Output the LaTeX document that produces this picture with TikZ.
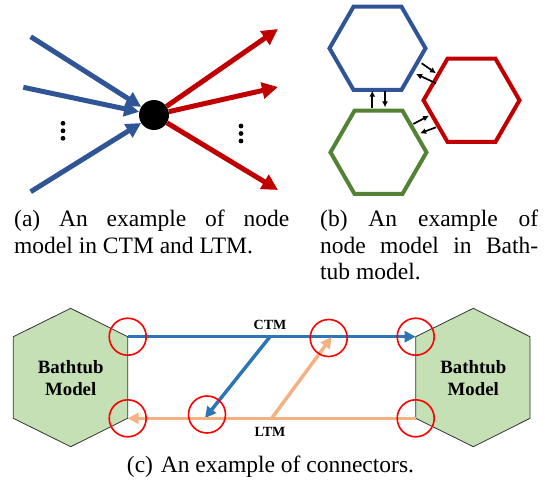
\documentclass[tikz,border=0pt]{standalone}
\usepackage{fontspec}
\setmainfont{Liberation Serif}
\usetikzlibrary{arrows.meta}
\usetikzlibrary{shapes.geometric}
\definecolor{darkblue}{HTML}{2F5597}
\definecolor{darkred}{HTML}{C00000}
\definecolor{darkgreen}{HTML}{548235}
\definecolor{ctmblue}{HTML}{2E75B6}
\definecolor{ltmorange}{HTML}{F4B183}
\definecolor{tubgreen}{HTML}{C5E0B4}

\begin{document}
\begin{tikzpicture}[x=1pt,y=-1pt,
    hub/.style={circle,fill=black,minimum size=30,inner sep=0},
    inflow/.style={-{Triangle[length=15pt,width=15pt]},line width=5pt,darkblue},
    outflow/.style={-{Triangle[length=16pt,width=16pt]},line width=5pt,darkred},
    tub/.style={regular polygon,regular polygon sides=6,minimum size=96,
        inner sep=0,line width=4pt},
    swap/.style={-{Latex[length=6pt,width=6pt]},line width=1.7pt},
    tubhex/.style={fill=tubgreen,draw=black!80,line width=0.8pt},
    tubname/.style={font=\fontsize{18.8}{22}\selectfont\bfseries,align=center,inner sep=0},
    ctmline/.style={-{Triangle[length=11pt,width=11pt]},line width=3.5pt,ctmblue},
    ltmline/.style={-{Triangle[length=11pt,width=11pt]},line width=3.5pt,ltmorange},
    ring/.style={circle,draw=red,line width=1.6pt,minimum size=37,inner sep=0},
    linkname/.style={font=\fontsize{14}{16}\selectfont\bfseries,inner sep=0},
    caption/.style={font=\fontsize{23.5}{26.5}\selectfont,align=left,inner sep=0}]

\useasboundingbox (0,0) rectangle (545,487);

% (a) node model in CTM and LTM
\node [hub] (hub) at (154,115) {};
\coordinate (in1) at (30.7,36.7);
\coordinate (in2) at (23.3,87.3);
\coordinate (in3) at (30.7,191.7);
\coordinate (out1) at (278,29);
\coordinate (out2) at (278,87);
\coordinate (out3) at (278,190);
\draw [inflow] (in1) -- (hub);
\draw [inflow] (in2) -- (hub);
\draw [inflow] (in3) -- (hub);
\draw [outflow] (hub) -- (out1);
\draw [outflow] (hub) -- (out2);
\draw [outflow] (hub) -- (out3);
\foreach \y in {123.3,130.8,138.3} \fill (63,\y) circle (2.4);
\foreach \y in {126,133.5,141} \fill (241,\y) circle (2.4);

% (b) node model in Bathtub model
\node [tub,draw=darkblue] (bluehex) at (377.5,48.3) {};
\node [tub,draw=darkred] (redhex) at (471.5,100.3) {};
\node [tub,draw=darkgreen] (greenhex) at (378.5,152.3) {};
\coordinate (bg1) at (372.3,108.3);
\coordinate (bg2) at (372.3,90.7);
\coordinate (bg3) at (385,90.7);
\coordinate (bg4) at (385,107.3);
\coordinate (br1) at (421.7,63.3);
\coordinate (br2) at (436,73.3);
\coordinate (br3) at (436,83.3);
\coordinate (br4) at (416,74);
\coordinate (gr1) at (413.3,124);
\coordinate (gr2) at (429,115.7);
\coordinate (gr3) at (436,127.3);
\coordinate (gr4) at (420,133.3);
\draw [swap] (bg1) -- (bg2);
\draw [swap] (bg3) -- (bg4);
\draw [swap] (br1) -- (br2);
\draw [swap] (br3) -- (br4);
\draw [swap] (gr1) -- (gr2);
\draw [swap] (gr3) -- (gr4);

% (c) connectors
\coordinate (ltop) at (127.7,336.7);
\coordinate (lbot) at (127.7,418.3);
\coordinate (rtop) at (415.7,336.7);
\coordinate (rbot) at (415.7,418.3);
\draw [tubhex] (13.3,336.7) -- (70.7,308.3) -- (ltop) -- (lbot)
    -- (70.7,446.7) -- (13.3,418.3) -- cycle;
\draw [tubhex] (rtop) -- (473.3,308.3) -- (530,336.7) -- (530,418.3)
    -- (473.3,446.7) -- (rbot) -- cycle;
\node [tubname] (lefttub) at (70.7,377.8) {Bathtub\\Model};
\node [tubname] (righttub) at (473.3,377.8) {Bathtub\\Model};

\coordinate (ctmsplit) at (270,336.7);
\coordinate (ctmend) at (205,418);
\coordinate (ltmsplit) at (271.7,418.3);
\coordinate (ltmend) at (331.7,337);
\draw [ctmline] (ltop) -- (rtop);
\draw [ctmline] (ctmsplit) -- (ctmend);
\draw [ltmline] (rbot) -- (lbot);
\draw [ltmline] (ltmsplit) -- (ltmend);
\node [linkname] (ctm) at (270,325) {CTM};
\node [linkname] (ltm) at (270,431.7) {LTM};

\foreach \c in {ltop,lbot,rtop,rbot} \node [ring] (ring-\c) at (\c) {};
\node [ring] (ring-ctm) at (207,414.5) {};
\node [ring] (ring-ltm) at (328.7,338) {};

% some captions
\node [caption,anchor=base west] (capa) at (14,253)
    {\makebox[275pt][s]{(a) An example of node}\\model in CTM and LTM.};
\node [caption,anchor=base west] (capb) at (320,279.5)
    {\makebox[218pt][s]{(b) An example of}\\\makebox[218pt][s]{node model in Bath-}\\tub model.};
\node [caption,anchor=base] (capc) at (270.5,472.7)
    {(c)\hspace{0.33em}An example of connectors.};

\end{tikzpicture}
\end{document}
